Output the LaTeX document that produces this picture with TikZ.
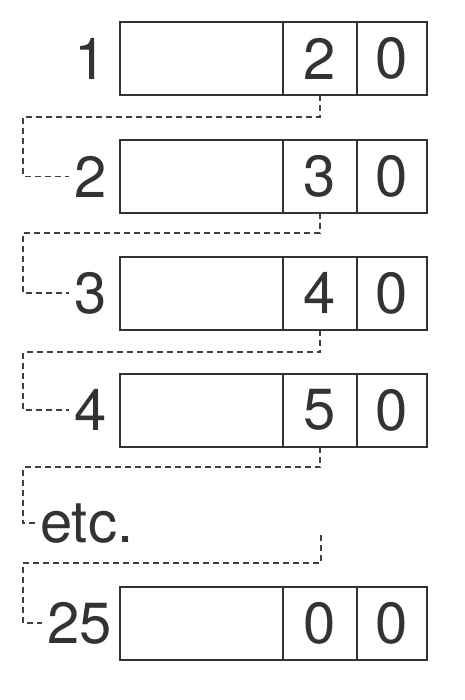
\documentclass[tikz,border=0pt]{standalone}
\usepackage{fontspec}
\setmainfont{TeX Gyre Heros}
\usetikzlibrary{positioning}
\begin{document}
\begin{tikzpicture}[x=1pt,y=-1pt,
    cell/.style={rectangle, draw=black!80, line width=2pt, minimum height=73pt,
        inner sep=0pt, outer sep=0pt, text=black!80, font=\fontsize{58}{60}\selectfont},
    bigcell/.style={cell, minimum width=163pt},
    ptrcell/.style={cell, minimum width=74pt},
    endcell/.style={cell, minimum width=70pt},
    rowlabel/.style={inner xsep=5pt, inner ysep=0pt, text=black!80,
        font=\fontsize{58}{60}\selectfont},
    linkline/.style={draw=black!75, line width=1.5pt, dash pattern=on 6pt off 4pt}]
    \useasboundingbox (0,0) rectangle (464,700);
    % records
    \node[bigcell] (a1) at (201.5,58.5) {};
    \node[ptrcell, right=0pt of a1] (p1) {2};
    \node[endcell, right=0pt of p1] (e1) {0};
    \node[rowlabel, left=8pt of a1] (r1) {1};

    \node[bigcell] (a2) at (201.5,176.5) {};
    \node[ptrcell, right=0pt of a2] (p2) {3};
    \node[endcell, right=0pt of p2] (e2) {0};
    \node[rowlabel, left=8pt of a2] (r2) {2};

    \node[bigcell] (a3) at (201.5,293) {};
    \node[ptrcell, right=0pt of a3] (p3) {4};
    \node[endcell, right=0pt of p3] (e3) {0};
    \node[rowlabel, left=8pt of a3] (r3) {3};

    \node[bigcell] (a4) at (201.5,410) {};
    \node[ptrcell, right=0pt of a4] (p4) {5};
    \node[endcell, right=0pt of p4] (e4) {0};
    \node[rowlabel, left=8pt of a4] (r4) {4};

    \node[rowlabel, anchor=base west, inner xsep=2pt] (etc) at (38,542) {etc.};
    \coordinate (etcout) at (321,535);

    \node[bigcell] (a25) at (201.5,623) {};
    \node[ptrcell, right=0pt of a25] (p25) {0};
    \node[endcell, right=0pt of p25] (e25) {0};
    \node[rowlabel, left=3pt of a25] (r25) {25};

    % links
    \draw[linkline] (p1.south) |- (23,117) |- (r2.west);
    \draw[linkline] (p2.south) |- (23,233) |- (r3.west);
    \draw[linkline] (p3.south) |- (23,352) |- (r4.west);
    \draw[linkline] (p4.south) |- (23,467) |- (etc.west);
    \draw[linkline] (etcout) |- (23,563) |- (r25.west);
\end{tikzpicture}
\end{document}
